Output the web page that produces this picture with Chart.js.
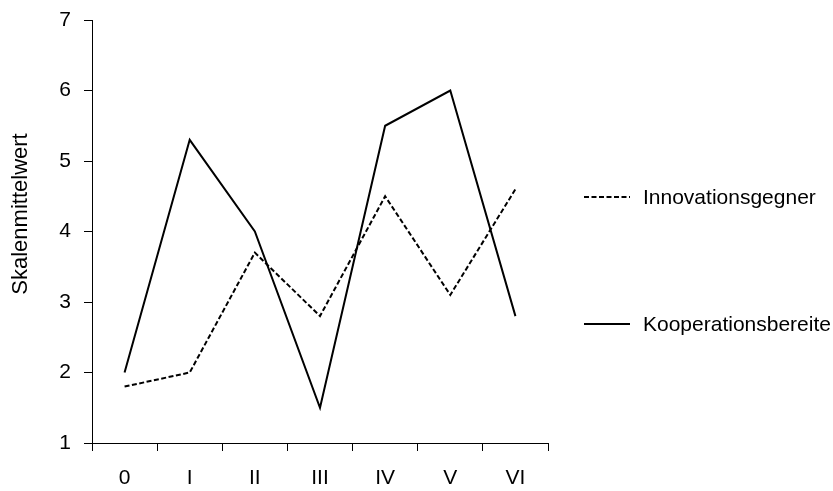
<!DOCTYPE html>
<html>
<head>
<meta charset="utf-8">
<script src="https://cdn.jsdelivr.net/npm/chart.js@4/dist/chart.umd.min.js"></script>
<style>
  html, body { margin: 0; padding: 0; background: #fff; }
  #wrap { width: 833px; height: 491px; }
</style>
</head>
<body>
<div id="wrap"><canvas id="chart" width="833" height="491"></canvas></div>
<script>
    const categories = ['0', 'I', 'II', 'III', 'IV', 'V', 'VI'];
    const innovationsgegner = [1.8, 2.0, 3.7, 2.8, 4.5, 3.1, 4.6];
    const kooperationsbereite = [2.0, 5.3, 4.0, 1.5, 5.5, 6.0, 2.8];
    const yTicks = [1, 2, 3, 4, 5, 6, 7];
    const yTitle = 'Skalenmittelwert';

    const fontFamily = '"Liberation Sans", Arial, sans-serif';
    const dashPattern = [5, 2.5];

    // legend and axis title drawn by hand, placed like the original
    const sideLegend = {
        id: 'sideLegend',
        afterDraw(chart) {
            const ctx = chart.ctx;
            const items = [
                { label: 'Innovationsgegner', dash: dashPattern, y: 197 },
                { label: 'Kooperationsbereite', dash: [], y: 324 }
            ];
            ctx.save();
            ctx.strokeStyle = '#000';
            ctx.lineWidth = 2;
            ctx.fillStyle = '#000';
            ctx.font = '21px ' + fontFamily;
            ctx.textBaseline = 'middle';
            items.forEach(it => {
                ctx.setLineDash(it.dash);
                ctx.beginPath();
                ctx.moveTo(584, it.y);
                ctx.lineTo(630, it.y);
                ctx.stroke();
                ctx.fillText(it.label, 643, it.y + 1);
            });

            // rotated y title
            ctx.translate(21, 214);
            ctx.rotate(-Math.PI / 2);
            ctx.font = '22px ' + fontFamily;
            ctx.textAlign = 'center';
            ctx.fillText(yTitle, 0, 0);
            ctx.restore();
        }
    };

    const ctx = document.getElementById('chart').getContext('2d');
    new Chart(ctx, {
        type: 'line',
        data: {
            labels: categories,
            datasets: [{
                label: 'Innovationsgegner',
                data: innovationsgegner,
                borderColor: '#000',
                borderWidth: 2,
                borderDash: dashPattern,
                pointRadius: 0,
                tension: 0,
                fill: false
            }, {
                label: 'Kooperationsbereite',
                data: kooperationsbereite,
                borderColor: '#000',
                borderWidth: 2,
                pointRadius: 0,
                tension: 0,
                fill: false
            }]
        },
        options: {
            responsive: false,
            animation: false,
            layout: { padding: { top: 20, right: 285, left: 0, bottom: 0 } },
            plugins: {
                legend: { display: false },
                tooltip: { enabled: false }
            },
            scales: {
                x: {
                    type: 'category',
                    offset: true,
                    border: { display: true, color: '#000', width: 1 },
                    grid: { display: true, offset: true, drawOnChartArea: false, drawTicks: true, tickLength: 8, color: '#000' },
                    ticks: { color: '#000', padding: 15, font: { family: fontFamily, size: 21 }, maxRotation: 0 },
                    afterFit(scale) {
                        scale.height = 48;
                        scale.paddingLeft = 0;
                        scale.paddingRight = 0;
                    }
                },
                y: {
                    min: 1,
                    max: 7,
                    afterBuildTicks(scale) { scale.ticks = yTicks.map(v => ({ value: v })); },
                    border: { display: true, color: '#000', width: 1 },
                    grid: { display: true, drawOnChartArea: false, drawTicks: true, tickLength: 8, color: '#000' },
                    ticks: { color: '#000', padding: 13, font: { family: fontFamily, size: 21 } },
                    afterFit(scale) {
                        scale.width = 92;
                        scale.paddingTop = 0;
                        scale.paddingBottom = 0;
                    }
                }
            }
        },
        plugins: [sideLegend]
    });
</script>
</body>
</html>
